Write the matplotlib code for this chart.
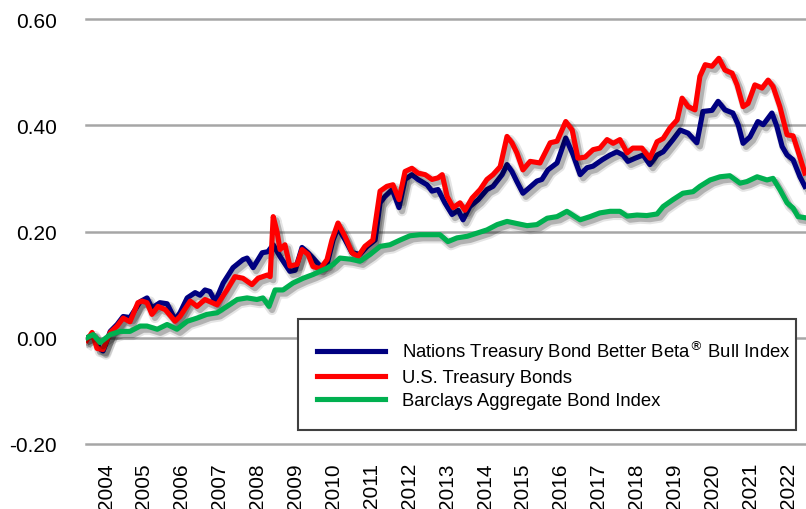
import numpy as np
import matplotlib
matplotlib.use('Agg')
import matplotlib.pyplot as plt
import matplotlib.patheffects as pe
from matplotlib.lines import Line2D
from matplotlib.patches import Rectangle

plt.rcParams['font.family'] = ['Liberation Sans', 'DejaVu Sans']
plt.rcParams['axes.unicode_minus'] = False

# --- data (fractional year, cumulative return) ---
nt_x = [2003.49, 2003.66, 2003.82, 2003.92, 2004.11, 2004.29, 2004.45, 2004.63, 2004.90, 2005.08,
        2005.21, 2005.42, 2005.61, 2005.82, 2005.95, 2006.14, 2006.35, 2006.48, 2006.61, 2006.74,
        2006.88, 2007.09, 2007.35, 2007.61, 2007.72, 2007.88, 2008.12, 2008.27, 2008.41, 2008.59,
        2008.85, 2008.99, 2009.17, 2009.33, 2009.46, 2009.65, 2009.83, 2009.99, 2010.12, 2010.31,
        2010.49, 2010.70, 2010.89, 2011.10, 2011.23, 2011.36, 2011.55, 2011.73, 2011.89, 2012.07,
        2012.23, 2012.47, 2012.60, 2012.76, 2012.94, 2013.13, 2013.29, 2013.42, 2013.60, 2013.82,
        2014.05, 2014.21, 2014.45, 2014.58, 2014.71, 2014.84, 2015.00, 2015.13, 2015.37, 2015.50,
        2015.66, 2015.90, 2016.13, 2016.32, 2016.51, 2016.69, 2016.85, 2017.09, 2017.30, 2017.48,
        2017.64, 2017.77, 2017.96, 2018.17, 2018.35, 2018.54, 2018.70, 2018.96, 2019.15, 2019.36,
        2019.59, 2019.75, 2019.99, 2020.15, 2020.33, 2020.54, 2020.68, 2020.81, 2020.99, 2021.20,
        2021.34, 2021.57, 2021.70, 2021.84, 2021.97, 2022.13, 2022.31, 2022.44]
nt_y = [0.000, 0.005, -0.020, -0.025, 0.012, 0.025, 0.040, 0.038, 0.068, 0.075,
        0.056, 0.066, 0.064, 0.034, 0.047, 0.075, 0.085, 0.080, 0.090, 0.087,
        0.068, 0.103, 0.132, 0.147, 0.150, 0.132, 0.160, 0.162, 0.175, 0.153,
        0.125, 0.127, 0.170, 0.160, 0.150, 0.135, 0.138, 0.184, 0.207, 0.184,
        0.160, 0.157, 0.172, 0.184, 0.254, 0.266, 0.279, 0.245, 0.298, 0.307,
        0.298, 0.288, 0.276, 0.279, 0.254, 0.232, 0.240, 0.222, 0.247, 0.260,
        0.279, 0.285, 0.307, 0.326, 0.313, 0.294, 0.272, 0.280, 0.295, 0.298,
        0.316, 0.329, 0.376, 0.345, 0.307, 0.320, 0.323, 0.335, 0.344, 0.350,
        0.344, 0.332, 0.338, 0.344, 0.326, 0.344, 0.350, 0.373, 0.391, 0.385,
        0.367, 0.426, 0.428, 0.445, 0.429, 0.423, 0.401, 0.366, 0.378, 0.407,
        0.401, 0.423, 0.398, 0.360, 0.344, 0.335, 0.303, 0.285]

ust_x = [2003.49, 2003.63, 2003.76, 2003.92, 2004.11, 2004.29, 2004.45, 2004.63, 2004.84, 2004.95,
         2005.08, 2005.21, 2005.37, 2005.56, 2005.82, 2005.95, 2006.22, 2006.40, 2006.61, 2006.80,
         2006.93, 2007.19, 2007.40, 2007.61, 2007.85, 2008.01, 2008.25, 2008.33, 2008.41, 2008.51,
         2008.59, 2008.72, 2008.85, 2009.04, 2009.17, 2009.33, 2009.46, 2009.65, 2009.83, 2009.96,
         2010.12, 2010.31, 2010.49, 2010.65, 2010.83, 2011.04, 2011.23, 2011.41, 2011.57, 2011.73,
         2011.89, 2012.07, 2012.23, 2012.42, 2012.60, 2012.76, 2012.87, 2013.00, 2013.16, 2013.34,
         2013.47, 2013.66, 2013.87, 2014.05, 2014.21, 2014.40, 2014.58, 2014.71, 2014.84, 2015.00,
         2015.19, 2015.45, 2015.72, 2015.90, 2016.13, 2016.30, 2016.45, 2016.64, 2016.85, 2017.03,
         2017.22, 2017.38, 2017.56, 2017.75, 2017.90, 2018.14, 2018.35, 2018.54, 2018.70, 2018.88,
         2019.07, 2019.20, 2019.36, 2019.54, 2019.67, 2019.81, 2019.99, 2020.17, 2020.33, 2020.52,
         2020.65, 2020.81, 2020.94, 2021.12, 2021.31, 2021.47, 2021.60, 2021.78, 2021.97, 2022.13,
         2022.26, 2022.44]
ust_y = [-0.005, 0.010, -0.020, -0.022, 0.010, 0.022, 0.037, 0.030, 0.066, 0.069,
         0.066, 0.044, 0.059, 0.053, 0.031, 0.040, 0.069, 0.059, 0.072, 0.066,
         0.062, 0.090, 0.115, 0.112, 0.100, 0.112, 0.118, 0.115, 0.228, 0.200,
         0.166, 0.175, 0.135, 0.138, 0.166, 0.157, 0.134, 0.130, 0.147, 0.184,
         0.216, 0.190, 0.160, 0.153, 0.172, 0.184, 0.276, 0.285, 0.288, 0.260,
         0.313, 0.319, 0.310, 0.307, 0.298, 0.301, 0.307, 0.266, 0.245, 0.254,
         0.240, 0.263, 0.279, 0.298, 0.307, 0.322, 0.379, 0.367, 0.348, 0.316,
         0.332, 0.329, 0.367, 0.370, 0.407, 0.391, 0.338, 0.340, 0.354, 0.357,
         0.373, 0.366, 0.373, 0.348, 0.357, 0.357, 0.338, 0.369, 0.375, 0.395,
         0.410, 0.451, 0.435, 0.429, 0.492, 0.514, 0.511, 0.526, 0.504, 0.498,
         0.476, 0.435, 0.441, 0.476, 0.470, 0.485, 0.473, 0.435, 0.382, 0.380,
         0.351, 0.310]

agg_x = [2003.49, 2003.66, 2003.84, 2004.11, 2004.37, 2004.63, 2004.90, 2005.08, 2005.35, 2005.61,
         2005.87, 2006.14, 2006.40, 2006.66, 2006.93, 2007.19, 2007.46, 2007.72, 2007.98, 2008.14,
         2008.30, 2008.46, 2008.67, 2008.93, 2009.20, 2009.46, 2009.83, 2009.99, 2010.17, 2010.44,
         2010.70, 2010.97, 2011.23, 2011.49, 2011.76, 2012.02, 2012.28, 2012.55, 2012.81, 2013.02,
         2013.26, 2013.53, 2013.79, 2014.05, 2014.32, 2014.58, 2014.84, 2015.11, 2015.37, 2015.64,
         2015.90, 2016.16, 2016.51, 2016.77, 2017.03, 2017.30, 2017.56, 2017.75, 2018.01, 2018.27,
         2018.54, 2018.70, 2018.96, 2019.22, 2019.49, 2019.67, 2019.94, 2020.20, 2020.46, 2020.73,
         2020.91, 2021.18, 2021.44, 2021.60, 2021.78, 2021.97, 2022.13, 2022.26, 2022.44]
agg_y = [0.000, 0.006, -0.009, 0.006, 0.012, 0.012, 0.022, 0.022, 0.016, 0.025,
         0.016, 0.031, 0.037, 0.044, 0.047, 0.059, 0.072, 0.075, 0.072, 0.075,
         0.059, 0.090, 0.090, 0.103, 0.112, 0.119, 0.131, 0.138, 0.150, 0.148,
         0.144, 0.157, 0.172, 0.175, 0.184, 0.192, 0.194, 0.194, 0.194, 0.181,
         0.188, 0.191, 0.197, 0.203, 0.213, 0.219, 0.215, 0.211, 0.213, 0.225,
         0.228, 0.238, 0.222, 0.228, 0.235, 0.238, 0.238, 0.229, 0.231, 0.230,
         0.233, 0.247, 0.260, 0.272, 0.275, 0.285, 0.297, 0.303, 0.305, 0.291,
         0.294, 0.303, 0.297, 0.300, 0.279, 0.254, 0.244, 0.228, 0.226]

labels = ['Nations Treasury Bond Better Beta$^{\\circledR}$ Bull Index',
          'U.S. Treasury Bonds',
          'Barclays Aggregate Bond Index']
colors = ['#000080', '#FF0000', '#00B050']
years = list(range(2004, 2023))
yticks = [-0.20, 0.00, 0.20, 0.40, 0.60]

fig = plt.figure(figsize=(8.06, 5.10), dpi=100)
ax = fig.add_axes([86/806., 65/510., 720/806., 425/510.])

lw = 3.7
def shadow():
	return [pe.SimpleLineShadow(offset=(2.2, -2.6), shadow_color='k', alpha=0.10, linewidth=lw*2.0),
		pe.SimpleLineShadow(offset=(2.2, -2.6), shadow_color='k', alpha=0.22, linewidth=lw*1.2),
		pe.Normal()]

series = [(nt_x, nt_y), (ust_x, ust_y), (agg_x, agg_y)]
for i, (xs, ys) in enumerate(series):
	ax.plot(xs, ys, color=colors[i], lw=lw, solid_joinstyle='round', zorder=3+i, path_effects=shadow())

for yv in yticks:
	ax.axhline(yv, color='#A6A6A6', lw=1.8, zorder=1, clip_on=False)

ax.set_xlim(2003.47, 2022.47)
ax.set_ylim(-0.20, 0.60)
ax.set_xticks(years)
ax.set_xticklabels([str(y) for y in years], rotation=90, fontsize=15)
ax.set_yticks(yticks)
ax.set_yticklabels(['%.2f' % v for v in yticks], fontsize=15)
ax.tick_params(axis='x', length=0, pad=13)
ax.tick_params(axis='y', length=0, pad=21)
for s in ax.spines.values(): s.set_visible(False)

# legend box drawn separately so its edges sit where the reference has them
box = Rectangle(((298-86)/720., (445-431)/425.), (796-298)/720., (431-320)/425., transform=ax.transAxes,
		facecolor='white', edgecolor='#404040', lw=1.5, zorder=9)
ax.add_patch(box)
handles = [Line2D([], [], color=c, lw=lw) for c in colors]
leg = ax.legend(handles, labels, loc='center left', bbox_to_anchor=((317-86)/720., (445-375)/425.), fontsize=13.3,
		frameon=False, borderpad=0, handlelength=3.7, handletextpad=0.9, labelspacing=0.32, borderaxespad=0)
leg.set_zorder(10)

plt.savefig('out.png', dpi=100)
